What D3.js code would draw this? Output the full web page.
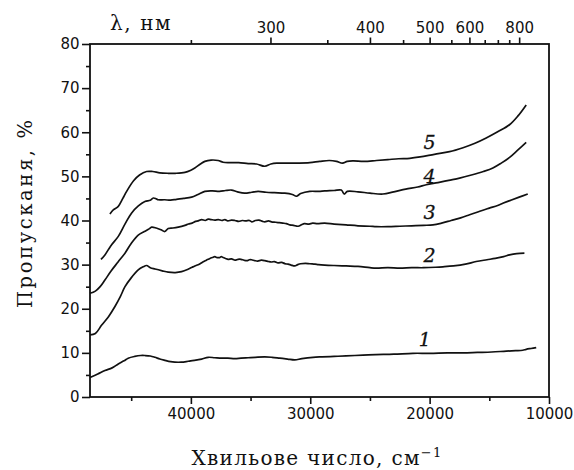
<!DOCTYPE html>
<html>
<head>
<meta charset="utf-8">
<script src="https://d3js.org/d3.v7.min.js"></script>
<style>
  html, body { margin: 0; padding: 0; background: #fff; }
  svg { display: block; }
  .tick text { font-family: "DejaVu Sans", sans-serif; font-size: 15px; fill: #111; }
  .title { font-family: "DejaVu Serif", serif; fill: #111; }
  .curve-label { font-family: "DejaVu Serif", serif; font-style: italic; font-size: 19px; fill: #111; stroke: #111; stroke-width: 0.3px; }
</style>
</head>
<body>
<script>
// Transmission spectra, samples 1–5: [wavenumber cm^-1, transmission %]
const series1 = [[48450,4.4],[47800,5.2],[47200,6.0],[46600,6.6],[46080,7.5],[45600,8.2],[45250,8.8],[44700,9.2],[44200,9.4],[43850,9.4],[43400,9.3],[43010,9.0],[42600,8.6],[42180,8.3],[41700,8.0],[41340,7.9],[40800,7.9],[40220,8.1],[39700,8.3],[39100,8.6],[38550,9.0],[38000,8.9],[37400,8.8],[36900,8.8],[36320,8.7],[35800,8.8],[35200,8.9],[34600,9.0],[33810,9.1],[33200,9.0],[32550,8.8],[31900,8.6],[31300,8.4],[30700,8.7],[29770,9.0],[29000,9.1],[28000,9.2],[27000,9.3],[25580,9.5],[24500,9.6],[23000,9.7],[21400,9.9],[20000,9.9],[18500,10.0],[17210,10.0],[16000,10.1],[14800,10.2],[13580,10.4],[12800,10.5],[12200,10.6],[11910,10.8],[11500,11.0],[11070,11.2]];
const series2 = [[48450,14.1],[48000,14.4],[47470,16.3],[46900,18.2],[46360,20.5],[45900,22.8],[45520,25.0],[45000,27.0],[44410,28.8],[44000,29.5],[43710,29.8],[43400,29.3],[43000,29.0],[42400,28.6],[41900,28.3],[41300,28.2],[40780,28.4],[40200,29.0],[39900,29.4],[39670,29.7],[39300,30.1],[39000,30.6],[38700,31.0],[38400,31.4],[38200,31.6],[37990,31.8],[37800,31.6],[37600,31.6],[37450,31.8],[37300,31.6],[37100,31.4],[36880,31.2],[36600,31.3],[36300,31.0],[36050,31.2],[35800,31.2],[35550,31.0],[35300,30.9],[35100,31.1],[34920,31.1],[34650,30.9],[34400,30.8],[34100,31.0],[33800,30.9],[33500,30.7],[33250,30.6],[33000,30.7],[32700,30.4],[32400,30.5],[32100,30.2],[31850,30.1],[31600,29.9],[31300,29.7],[31050,30.0],[30800,30.2],[30400,30.3],[30040,30.2],[29600,30.1],[29300,30.0],[28790,29.9],[28000,29.8],[27000,29.7],[26000,29.6],[25000,29.3],[24460,29.2],[23500,29.3],[22500,29.2],[21500,29.3],[20500,29.3],[19500,29.4],[18890,29.5],[18000,29.7],[17000,30.1],[16100,30.7],[15200,31.1],[14500,31.4],[13800,31.8],[13310,32.2],[12700,32.5],[12060,32.6]];
const series3 = [[48450,23.5],[48000,24.0],[47600,25.0],[47200,26.5],[46700,28.5],[46100,30.6],[45520,32.6],[45000,34.8],[44410,36.7],[43900,37.5],[43500,38.1],[43290,38.5],[42900,38.3],[42500,37.9],[42180,37.5],[41900,38.2],[41500,38.3],[41060,38.5],[40500,38.9],[40200,39.2],[39900,39.4],[39600,39.8],[39390,39.9],[39100,40.2],[38800,40.0],[38550,40.3],[38300,40.2],[38000,40.1],[37700,40.2],[37400,40.0],[37150,40.2],[36900,39.9],[36600,40.1],[36300,40.0],[36000,39.8],[35700,40.0],[35400,39.9],[35100,40.0],[34900,39.7],[34600,40.0],[34300,40.1],[34000,39.8],[33800,39.7],[33500,39.9],[33250,39.7],[32900,39.6],[32600,39.5],[32300,39.4],[32000,39.3],[31700,39.0],[31400,38.9],[31020,38.7],[30700,39.1],[30500,39.3],[30100,39.2],[29800,39.4],[29400,39.3],[28790,39.4],[28000,39.2],[27000,39.0],[26000,38.8],[25000,38.7],[24460,38.6],[23500,38.6],[22500,38.7],[21500,38.8],[20500,38.9],[19720,39.0],[19000,39.4],[18200,40.0],[17400,40.6],[16650,41.3],[15800,42.1],[15000,42.8],[14300,43.4],[13870,43.9],[13200,44.6],[12500,45.3],[11780,46.0]];
const series4 = [[47530,31.2],[47200,32.2],[46700,34.3],[46080,36.4],[45500,39.3],[44960,41.7],[44400,43.3],[43850,44.3],[43400,44.6],[43150,45.1],[42900,44.9],[42740,44.7],[42200,44.7],[41700,44.6],[41200,44.8],[40600,45.0],[39940,45.3],[39400,45.9],[38830,46.6],[38200,46.7],[37600,46.6],[37100,46.8],[36600,46.9],[36100,46.5],[35500,46.2],[34900,46.4],[34370,46.6],[33700,46.4],[33000,46.3],[32130,46.2],[31500,45.9],[31160,45.5],[30800,46.1],[30040,46.6],[29300,46.6],[28790,46.7],[28000,46.8],[27400,46.9],[27150,46.0],[26900,46.6],[26000,46.5],[25000,46.2],[23910,46.0],[23000,46.5],[22000,47.1],[21000,47.6],[20280,48.1],[19300,48.6],[18400,49.1],[17490,49.6],[16500,50.3],[15500,51.1],[14700,51.9],[14000,53.0],[13300,54.3],[12600,56.0],[11910,57.7]];
const series5 = [[46780,41.5],[46500,42.4],[46080,43.2],[45700,45.0],[45380,46.6],[44800,49.0],[44300,50.3],[43710,51.1],[43200,51.1],[42600,50.8],[41900,50.7],[41300,50.7],[40500,50.9],[40000,51.4],[39670,51.9],[39200,52.8],[38830,53.4],[38300,53.7],[37720,53.6],[37300,53.2],[36800,53.1],[36000,53.1],[35200,52.9],[34500,52.8],[33810,52.3],[33300,52.8],[32800,53.0],[32000,53.0],[31000,53.0],[30040,53.1],[29200,53.4],[28400,53.6],[27800,53.4],[27300,53.0],[26900,53.4],[26400,53.5],[25500,53.4],[24460,53.6],[23500,53.8],[22600,54.0],[21670,54.1],[20800,54.4],[19600,55.0],[18330,55.6],[17200,56.5],[16200,57.5],[15260,58.7],[14300,60.1],[13310,61.7],[12600,63.7],[11910,66.2]];

const seriesNames = ["1", "2", "3", "4", "5"];
// anchor of each curve number, in data units [wavenumber, transmission]
const labelAnchors = [[20400, 11.6], [20000, 30.7], [20000, 40.4], [20000, 48.5], [20000, 56.2]];

const xTicks = [40000, 30000, 20000, 10000];
const xMinorTicks = [45000, 35000, 25000, 15000];
const yTicks = [0, 10, 20, 30, 40, 50, 60, 70, 80];
const yMinorTicks = [5, 15, 25, 35, 45, 55, 65, 75];
const lambdaTicks = [300, 400, 500, 600, 800];           // nm, labelled
const lambdaMinorTicks = [250, 350, 450, 550, 650, 700, 750];

const W = 574, H = 470;
const plotL = 90, plotR = 549, plotT = 44, plotB = 397;

const svg = d3.select("body").append("svg").attr("width", W).attr("height", H);

const x = d3.scaleLinear().domain([48450, 10000]).range([plotL, plotR]);
const y = d3.scaleLinear().domain([0, 80]).range([plotB, plotT]);

// axes
function styleAxis(g) {
  g.select(".domain").remove();
  g.selectAll(".tick line").attr("stroke", "#111").attr("stroke-width", 1.6);
}

svg.append("g").attr("transform", `translate(0,${plotB})`)
  .call(d3.axisBottom(x).tickValues(xTicks).tickSize(7).tickPadding(4).tickFormat(d3.format("d")))
  .call(styleAxis);
svg.append("g").attr("transform", `translate(0,${plotB})`)
  .call(d3.axisBottom(x).tickValues(xMinorTicks).tickSize(4).tickFormat(""))
  .call(styleAxis);

svg.append("g").attr("transform", `translate(${plotL},0)`)
  .call(d3.axisLeft(y).tickValues(yTicks).tickSize(8).tickPadding(2.5))
  .call(styleAxis);
svg.append("g").attr("transform", `translate(${plotL},0)`)
  .call(d3.axisLeft(y).tickValues(yMinorTicks).tickSize(4).tickFormat(""))
  .call(styleAxis);

// top wavelength axis: lambda (nm) = 1e7 / wavenumber
svg.append("g").attr("transform", `translate(0,${plotT})`)
  .call(d3.axisTop(x).tickValues(lambdaTicks.map(l => 1e7 / l)).tickSize(6.5).tickPadding(5)
    .tickFormat(v => String(Math.round(1e7 / v))))
  .call(styleAxis);
svg.append("g").attr("transform", `translate(0,${plotT})`)
  .call(d3.axisTop(x).tickValues(lambdaMinorTicks.map(l => 1e7 / l)).tickSize(4).tickFormat(""))
  .call(styleAxis);

// frame
svg.append("rect")
  .attr("x", plotL).attr("y", plotT)
  .attr("width", plotR - plotL).attr("height", plotB - plotT)
  .attr("fill", "none").attr("stroke", "#111").attr("stroke-width", 1.8);

// curves
const line = d3.line().x(d => x(d[0])).y(d => y(d[1])).curve(d3.curveCatmullRom.alpha(0.5));
const allSeries = [series1, series2, series3, series4, series5];
svg.append("g").selectAll("path").data(allSeries).join("path")
  .attr("d", line)
  .attr("fill", "none")
  .attr("stroke", "#111")
  .attr("stroke-width", 1.7)
  .attr("stroke-linejoin", "round");

svg.append("g").selectAll("text").data(seriesNames).join("text")
  .attr("class", "curve-label")
  .attr("x", (d, i) => x(labelAnchors[i][0]))
  .attr("y", (d, i) => y(labelAnchors[i][1]))
  .attr("text-anchor", "middle")
  .text(d => d);

// titles
svg.append("text").attr("class", "title")
  .attr("x", 110).attr("y", 29.5)
  .attr("font-size", 20)
  .attr("letter-spacing", 1.6)
  .text("λ, нм");

const xt = svg.append("text").attr("class", "title")
  .attr("x", 317).attr("y", 465)
  .attr("text-anchor", "middle")
  .attr("font-size", 20)
  .attr("letter-spacing", 1.3);
xt.append("tspan").text("Хвильове число, см");
xt.append("tspan").attr("font-size", 13).attr("dy", -8).text("−1");

svg.append("text").attr("class", "title")
  .attr("transform", "translate(31.7,214) rotate(-90)")
  .attr("text-anchor", "middle")
  .attr("font-size", 19.5)
  .attr("textLength", 188)
  .attr("lengthAdjust", "spacing")
  .text("Пропусканя, %");
</script>
</body>
</html>
